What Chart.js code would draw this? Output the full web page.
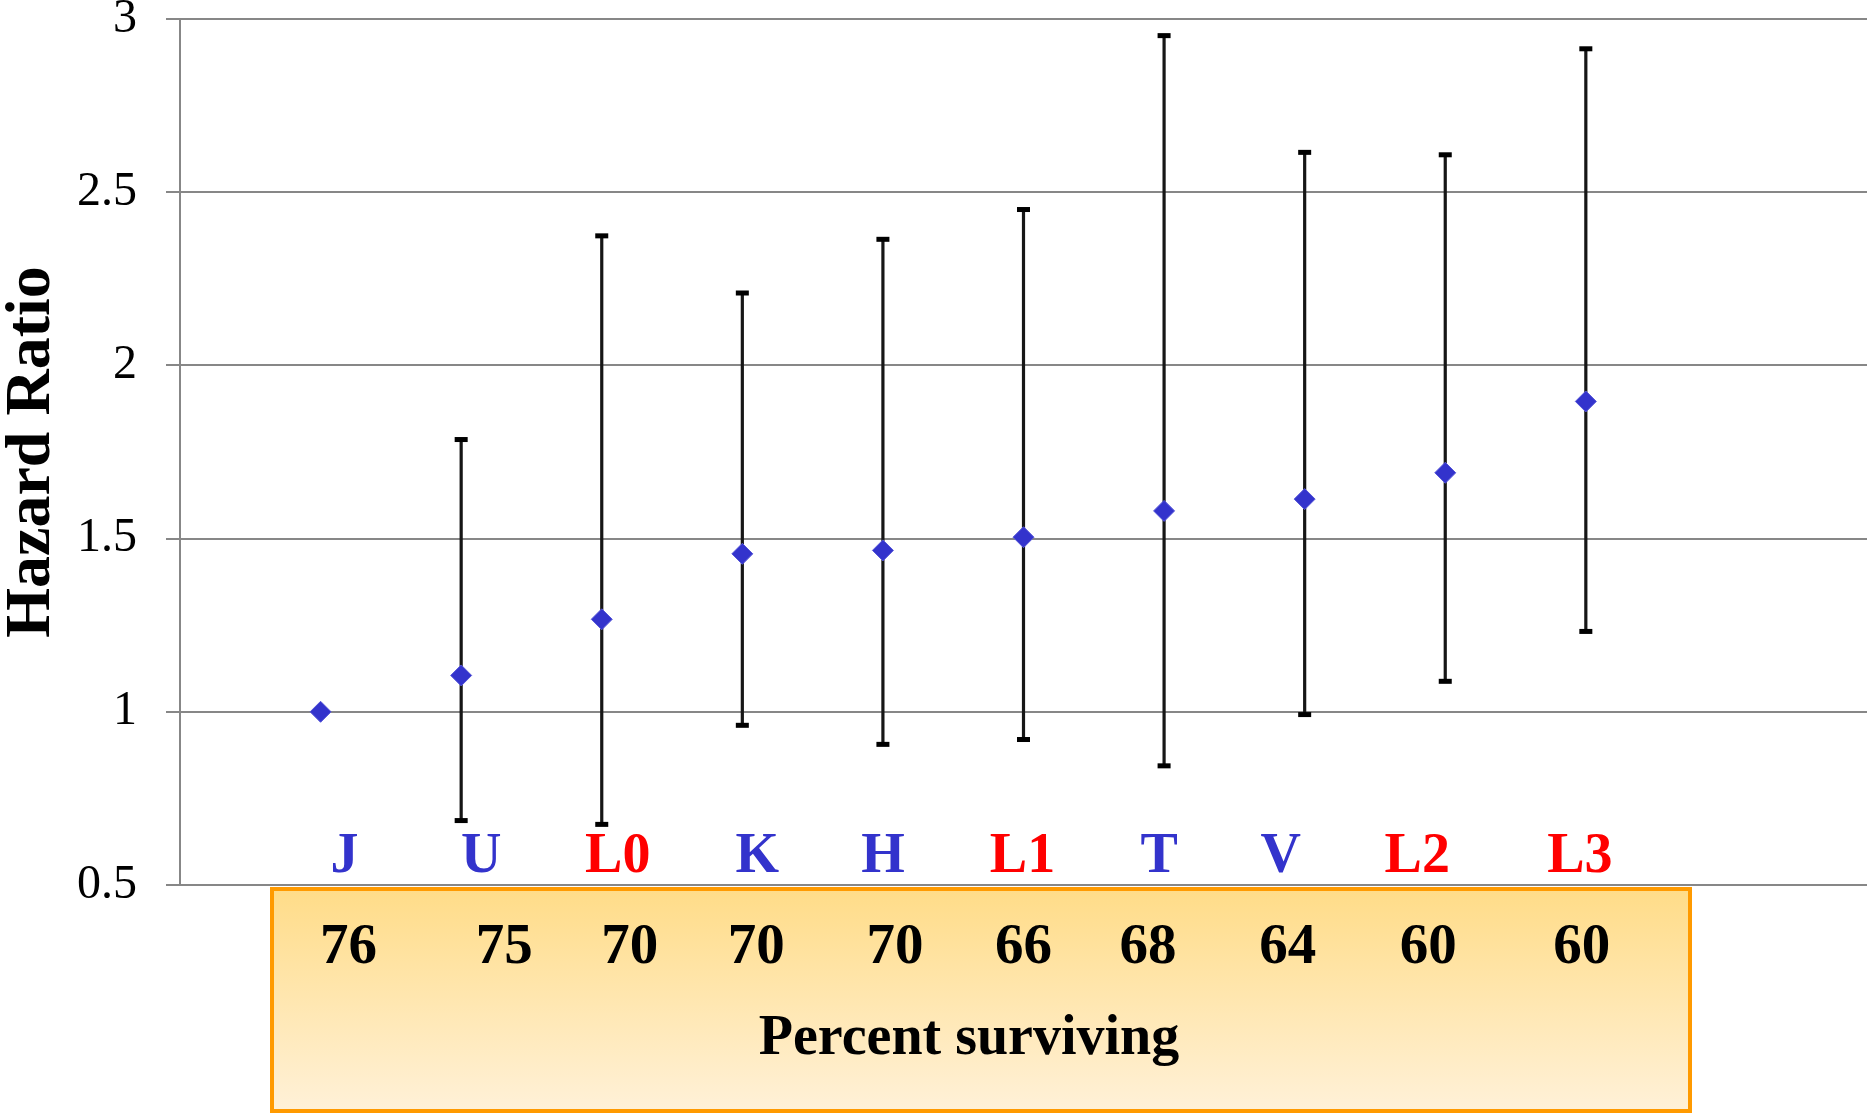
<!DOCTYPE html>
<html>
<head>
<meta charset="utf-8">
<script src="https://cdn.jsdelivr.net/npm/chart.js@4.4.1/dist/chart.umd.min.js"></script>
<style>
  html, body { margin: 0; padding: 0; background: #ffffff; overflow: hidden; }
  canvas { display: block; }
</style>
</head>
<body>
<canvas id="hr" width="1867" height="1114"></canvas>
<script>
// Haplogroups, ordered by hazard ratio
const haplogroups = ['J', 'U', 'L0', 'K', 'H', 'L1', 'T', 'V', 'L2', 'L3'];
// Hazard ratio point estimates (J is the reference group)
const hazardRatio = [1.00, 1.105, 1.267, 1.456, 1.466, 1.504, 1.58, 1.614, 1.69, 1.896];
// 95% confidence interval bounds
const ciLower = [null, 0.686, 0.675, 0.961, 0.906, 0.92, 0.844, 0.992, 1.088, 1.232];
const ciUpper = [null, 1.786, 2.374, 2.209, 2.364, 2.45, 2.952, 2.615, 2.608, 2.914];
// Percent surviving per haplogroup
const percentSurviving = [76, 75, 70, 70, 70, 66, 68, 64, 60, 60];
// Y axis range and step
const yMin = 0.5, yMax = 3, yStep = 0.5;

const SERIF = '"Liberation Serif", "Times New Roman", serif';
const BLUE = '#3333cc';
const RED = '#ff0000';
const GRID = '#878787';

// small horizontal nudges for the text rows (pixels)
const nameNudge = [24, 20, 16, 15, 0, -1, -5, -24, -28, -6];
const pctNudge = [28, 43, 28, 14, 12, 0, -16, -17, -17, -4];

const points = haplogroups.map((h, i) => ({ x: i + 1, y: hazardRatio[i] }));

const errorBars = {
  id: 'errorBars',
  beforeDatasetsDraw(chart) {
    const { ctx, scales: { x, y } } = chart;
    ctx.save();
    ctx.strokeStyle = '#161616';
    ctx.fillStyle = '#000000';
    ctx.lineWidth = 3.2;
    haplogroups.forEach((h, i) => {
      if (ciLower[i] == null || ciUpper[i] == null) return;
      const px = x.getPixelForValue(i + 1);
      const yl = y.getPixelForValue(ciLower[i]);
      const yu = y.getPixelForValue(ciUpper[i]);
      ctx.beginPath();
      ctx.moveTo(px, yu);
      ctx.lineTo(px, yl);
      ctx.stroke();
      ctx.fillRect(px - 6.5, yu - 2.5, 13, 5);
      ctx.fillRect(px - 6.5, yl - 2.5, 13, 5);
    });
    ctx.restore();
  }
};

const survivalBox = {
  id: 'survivalBox',
  afterDraw(chart) {
    const { ctx, scales: { x } } = chart;
    ctx.save();
    // haplogroup names just above the bottom gridline
    ctx.font = 'bold 56px ' + SERIF;
    ctx.textAlign = 'center';
    ctx.textBaseline = 'alphabetic';
    haplogroups.forEach((h, i) => {
      ctx.fillStyle = h.startsWith('L') ? RED : BLUE;
      ctx.fillText(h, x.getPixelForValue(i + 1) + nameNudge[i], 872);
    });

    // shaded box holding the survival percentages
    const bx = 272, by = 889, bw = 1418, bh = 222;
    const g = ctx.createLinearGradient(0, by, 0, by + bh);
    g.addColorStop(0, '#ffdc88');
    g.addColorStop(1, '#fff1d8');
    ctx.fillStyle = g;
    ctx.fillRect(bx, by, bw, bh);
    ctx.strokeStyle = '#ff9a00';
    ctx.lineWidth = 4;
    ctx.strokeRect(bx, by, bw, bh);

    ctx.fillStyle = '#000000';
    ctx.font = 'bold 57px ' + SERIF;
    percentSurviving.forEach((p, i) => {
      ctx.fillText(String(p), x.getPixelForValue(i + 1) + pctNudge[i], 963);
    });
    ctx.font = 'bold 56px ' + SERIF;
    ctx.fillText('Percent surviving', 969, 1054);
    ctx.restore();
  }
};

new Chart(document.getElementById('hr'), {
  type: 'scatter',
  data: {
    datasets: [{
      label: 'Hazard Ratio',
      data: points,
      pointStyle: 'rectRot',
      pointRadius: 10.5,
      pointHoverRadius: 10.5,
      backgroundColor: BLUE,
      borderColor: '#5656d8',
      borderWidth: 1
    }]
  },
  options: {
    responsive: false,
    animation: false,
    events: [],
    layout: { autoPadding: false, padding: { top: 19, bottom: 229, left: 0, right: 0 } },
    plugins: {
      legend: { display: false },
      tooltip: { enabled: false }
    },
    scales: {
      x: {
        type: 'linear',
        display: false,
        min: 0,
        max: 12
      },
      y: {
        type: 'linear',
        min: yMin,
        max: yMax,
        afterFit(scale) {
          scale.width = 180;
          scale.paddingTop = 0;
          scale.paddingBottom = 0;
        },
        ticks: {
          stepSize: yStep,
          color: '#000000',
          padding: 29,
          font: { family: SERIF, size: 48, lineHeight: 1.0 },
          callback: (v) => String(Number(v))
        },
        grid: {
          color: GRID,
          lineWidth: 2,
          drawTicks: true,
          tickLength: 14,
          tickColor: GRID
        },
        border: { display: true, color: GRID, width: 2 },
        title: {
          display: true,
          text: 'Hazard Ratio',
          color: '#000000',
          padding: { top: 0, bottom: 0 },
          font: { family: SERIF, size: 64, weight: 'bold', lineHeight: 1.0 }
        }
      }
    }
  },
  plugins: [errorBars, survivalBox]
});
</script>
</body>
</html>
